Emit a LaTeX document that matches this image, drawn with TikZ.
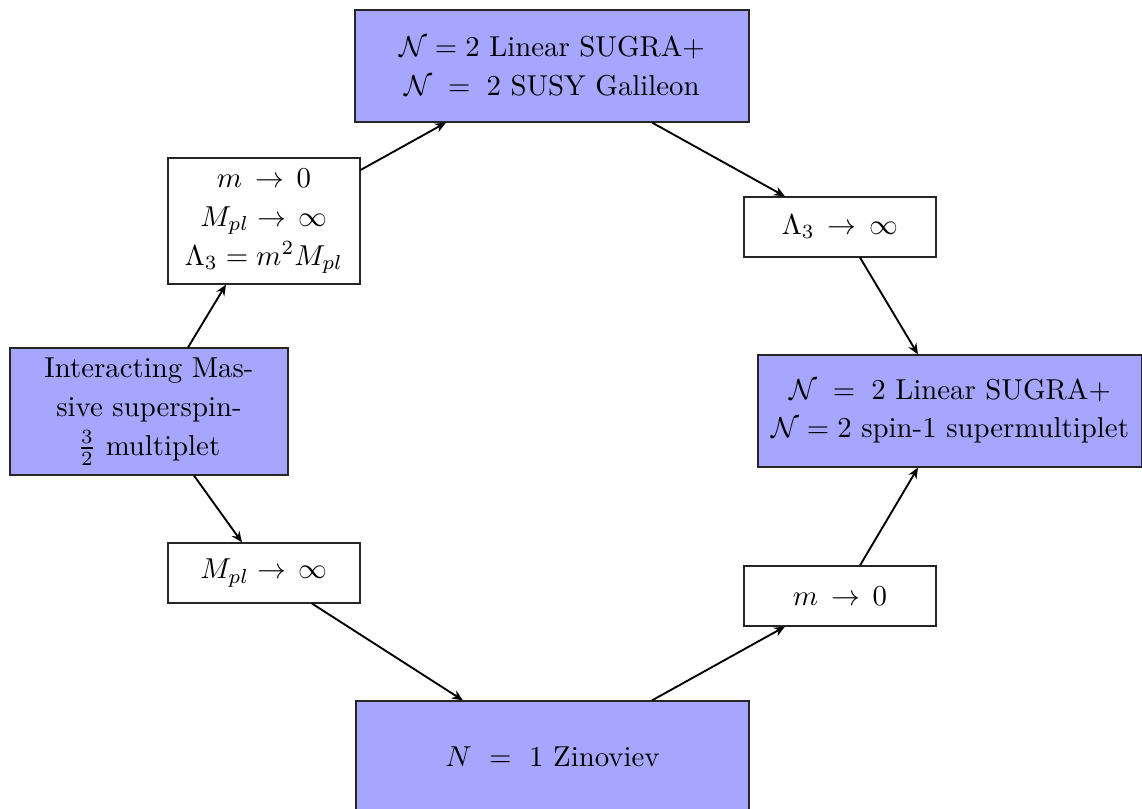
\documentclass[tikz,border=0pt]{standalone}
\usetikzlibrary{arrows.meta}
\definecolor{boxblue}{RGB}{166,166,255}
\begin{document}
\begin{tikzpicture}[x=0.3472pt,y=-0.3472pt,
  every node/.style={font=\fontsize{10}{13.5}\selectfont, align=center, inner sep=0pt},
  bluebox/.style={draw=black!85, fill=boxblue, rectangle, line width=0.4pt},
  whitebox/.style={draw=black!85, fill=white, rectangle, line width=0.4pt},
  conn/.style={-{Stealth[length=3.8pt,width=3.2pt]}, line width=0.65pt}]
\useasboundingbox (0,0) rectangle (1142,809);
\node[bluebox, minimum width=394*0.3472pt, minimum height=112*0.3472pt] (top) at (552,66)
  {$\mathcal{N}=2$ Linear SUGRA$+$\\ $\mathcal{N}\;=\;2$ SUSY Galileon};
\node[whitebox, minimum width=192*0.3472pt, minimum height=126*0.3472pt] (lt) at (264,221)
  {$m\,\to\,0$\\ $M_{pl}\to\,\infty$\\ $\Lambda_3=m^2M_{pl}$};
\node[bluebox, minimum width=278*0.3472pt, minimum height=127*0.3472pt] (int) at (149,411.5)
  {Interacting Mas-\\ sive superspin-\\ $\frac{3}{2}$ multiplet};
\node[whitebox, minimum width=192*0.3472pt, minimum height=60*0.3472pt] (mpl) at (264,573)
  {$M_{pl}\to\,\infty$};
\node[bluebox, minimum width=393*0.3472pt, minimum height=112*0.3472pt] (bot) at (552.5,757)
  {$N\ =\ 1$ Zinoviev};
\node[whitebox, minimum width=192*0.3472pt, minimum height=60*0.3472pt] (lam) at (840,227)
  {$\Lambda_3\,\to\,\infty$};
\node[bluebox, minimum width=384*0.3472pt, minimum height=112*0.3472pt] (rt) at (950,411)
  {$\mathcal{N}\;=\;2$ Linear SUGRA$+$\\ $\mathcal{N}=2$ spin-1 supermultiplet};
\node[whitebox, minimum width=192*0.3472pt, minimum height=60*0.3472pt] (m0) at (840,596)
  {$m\,\to\,0$};
\draw[conn] (int.north -| 188,0) -- (lt.south -| 226,0);
\draw[conn] (lt.east |- 0,170) -- (top.south -| 446,0);
\draw[conn] (top.south -| 652,0) -- (lam.north -| 785,0);
\draw[conn] (lam.south -| 860,0) -- (rt.north -| 918,0);
\draw[conn] (int.south -| 194,0) -- (mpl.north -| 242,0);
\draw[conn] (mpl.south -| 312,0) -- (bot.north -| 463,0);
\draw[conn] (bot.north -| 652,0) -- (m0.south -| 785,0);
\draw[conn] (m0.north -| 860,0) -- (rt.south -| 918,0);
\end{tikzpicture}
\end{document}
